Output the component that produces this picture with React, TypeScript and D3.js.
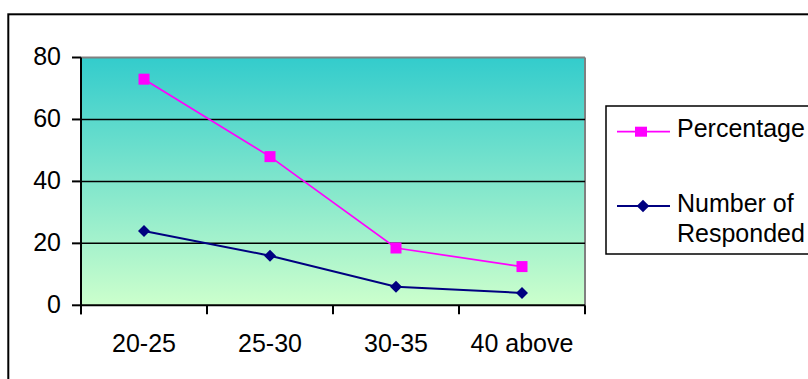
import React from "react";
import * as d3 from "d3";

const categories = ["20-25", "25-30", "30-35", "40 above"];
const percentage = [73, 48, 18.5, 12.5];
const responded = [24, 16, 6, 4];
const yTicks = [0, 20, 40, 60, 80];
const seriesNames = ["Percentage", "Number of Responded"];

const W = 808;
const H = 379;
const FONT = "'Liberation Sans', Arial, sans-serif";

export default function App() {
  const left = 81, right = 585, top = 57.5, bottom = 305.3;
  const x = d3.scaleBand<string>().domain(categories).range([left, right]).padding(0);
  const y = d3.scaleLinear().domain([0, 80]).range([bottom, top]);
  const cx = (c: string) => (x(c) as number) + x.bandwidth() / 2;
  const line = d3.line<[number, number]>().x((d) => d[0]).y((d) => d[1]);
  const pctPts: [number, number][] = categories.map((c, i) => [cx(c), y(percentage[i])]);
  const resPts: [number, number][] = categories.map((c, i) => [cx(c), y(responded[i])]);
  const sq = 11;
  const diamond = (px: number, py: number, r: number) =>
    `M${px},${py - r}L${px + r},${py}L${px},${py + r}L${px - r},${py}Z`;
  const xEdges = [left, ...categories.map((c) => (x(c) as number) + x.bandwidth())];

  return (
    <div style={{ position: "fixed", left: 0, top: 0 }}>
      <svg width={W} height={H} style={{ display: "block" }} fontFamily={FONT}>
        <defs>
          <linearGradient id="bg" x1="0" y1="0" x2="0" y2="1">
            <stop offset="0" stopColor="#33CCCC" />
            <stop offset="1" stopColor="#CCFFCC" />
          </linearGradient>
        </defs>
        <rect x={0} y={0} width={W} height={H} fill="#fff" />
        {/* outer frame */}
        <rect x={8.3} y={14.3} width={W + 20} height={H + 20} fill="none" stroke="#000" strokeWidth={2} />
        {/* plot area */}
        <rect x={left} y={top} width={right - left} height={bottom - top} fill="url(#bg)" />
        <line x1={left} x2={right} y1={top} y2={top} stroke="#808080" strokeWidth={2} />
        <line x1={right} x2={right} y1={top} y2={bottom} stroke="#808080" strokeWidth={2} />
        {yTicks.filter((t) => t !== 0 && t !== 80).map((t) => (
          <line key={t} x1={left} x2={right} y1={y(t)} y2={y(t)} stroke="#000" strokeWidth={1.5} />
        ))}
        {/* y axis */}
        <line x1={left} x2={left} y1={top} y2={bottom + 9} stroke="#000" strokeWidth={2} />
        {yTicks.map((t) => (
          <g key={t}>
            <line x1={left - 9} x2={left} y1={y(t)} y2={y(t)} stroke="#000" strokeWidth={2} />
            <text x={61} y={y(t) + 7.5} textAnchor="end" fontSize={25} fill="#000">
              {t}
            </text>
          </g>
        ))}
        {/* x axis */}
        <line x1={left} x2={right} y1={bottom} y2={bottom} stroke="#000" strokeWidth={2} />
        {xEdges.map((e, i) => (
          <line key={i} x1={e} x2={e} y1={bottom} y2={bottom + 9} stroke="#000" strokeWidth={2} />
        ))}
        {categories.map((c) => (
          <text key={c} x={cx(c)} y={351.5} textAnchor="middle" fontSize={25} fill="#000">
            {c}
          </text>
        ))}
        {/* series */}
        <path d={line(pctPts) as string} fill="none" stroke="#FF00FF" strokeWidth={1.7} />
        {pctPts.map((p, i) => (
          <rect key={i} x={p[0] - sq / 2} y={p[1] - sq / 2} width={sq} height={sq} fill="#FF00FF" />
        ))}
        <path d={line(resPts) as string} fill="none" stroke="#000080" strokeWidth={2} />
        {resPts.map((p, i) => (
          <path key={i} d={diamond(p[0], p[1], 6)} fill="#000080" />
        ))}
        {/* legend */}
        <rect x={606} y={106} width={W} height={148} fill="#fff" stroke="#000" strokeWidth={1.5} />
        <line x1={617} x2={670} y1={131.7} y2={131.7} stroke="#FF00FF" strokeWidth={1.7} />
        <rect x={641 - 6} y={131.7 - 5} width={12} height={10} fill="#FF00FF" />
        <text x={677} y={136.7} fontSize={25} fill="#000">{seriesNames[0]}</text>
        <line x1={617} x2={670} y1={206} y2={206} stroke="#000080" strokeWidth={2} />
        <path d={diamond(643, 206, 6.3)} fill="#000080" />
        <text x={677} y={211.5} fontSize={25} fill="#000">Number of</text>
        <text x={677} y={241.7} fontSize={25} fill="#000">Responded</text>
      </svg>
    </div>
  );
}
